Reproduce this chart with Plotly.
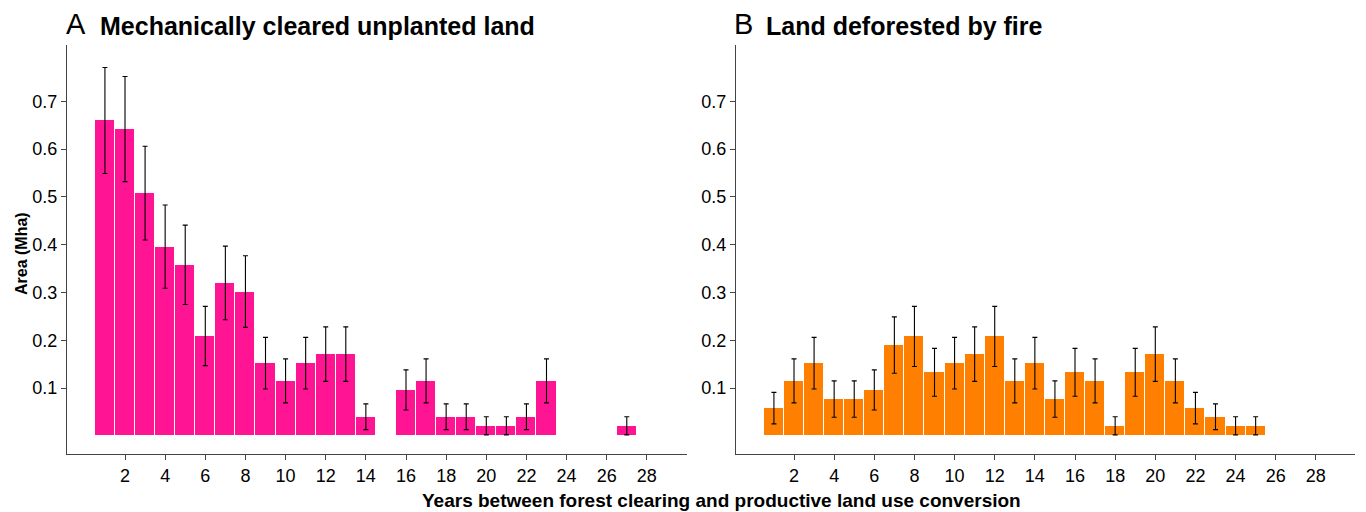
import plotly.graph_objects as go

# ---- data ----
left_years = [1, 2, 3, 4, 5, 6, 7, 8, 9, 10, 11, 12, 13, 14, 16, 17, 18, 19, 20, 21, 22, 23, 27]
left_vals = [0.660, 0.642, 0.508, 0.396, 0.358, 0.209, 0.320, 0.302, 0.152, 0.115, 0.152, 0.171,
             0.171, 0.040, 0.096, 0.115, 0.040, 0.040, 0.021, 0.021, 0.040, 0.115, 0.021]
left_err = [0.111, 0.110, 0.098, 0.087, 0.083, 0.062, 0.077, 0.075, 0.054, 0.046, 0.054, 0.057,
            0.057, 0.027, 0.042, 0.046, 0.027, 0.027, 0.019, 0.019, 0.027, 0.046, 0.019]

right_years = list(range(1, 26))
right_vals = [0.058, 0.115, 0.152, 0.077, 0.077, 0.096, 0.190, 0.208, 0.133, 0.152, 0.171, 0.208,
              0.115, 0.152, 0.077, 0.133, 0.115, 0.021, 0.133, 0.171, 0.115, 0.058, 0.040, 0.021, 0.021]
right_err = [0.033, 0.046, 0.054, 0.038, 0.038, 0.042, 0.059, 0.063, 0.050, 0.054, 0.057, 0.063,
             0.046, 0.054, 0.038, 0.050, 0.046, 0.019, 0.050, 0.057, 0.046, 0.033, 0.027, 0.019, 0.019]

y_ticks = [0.1, 0.2, 0.3, 0.4, 0.5, 0.6, 0.7]
x_ticks = list(range(2, 29, 2))

FONT = "Liberation Sans, Arial, sans-serif"
OFF = 8                      # page body margin
W, H = 1366 - OFF, 512 - OFF


def px(x):
    return (x - OFF) / W


def py(y):
    return 1 - (y - OFF) / H


fig = go.Figure()
err_style = dict(type="data", visible=True, color="black", thickness=1.1, width=2.5)

fig.add_trace(go.Bar(x=left_years, y=left_vals,
                     error_y=dict(array=left_err, **err_style),
                     marker=dict(color="#FF1493", line=dict(color="white", width=1)),
                     width=1, xaxis="x", yaxis="y", showlegend=False))
fig.add_trace(go.Bar(x=right_years, y=right_vals,
                     error_y=dict(array=right_err, **err_style),
                     marker=dict(color="#FF8000", line=dict(color="white", width=1)),
                     width=1, xaxis="x2", yaxis="y2", showlegend=False))

ax_common = dict(showline=True, linecolor="#444", linewidth=1.3, ticks="outside", ticklen=5,
                 tickcolor="#444", tickwidth=1, showgrid=False, zeroline=False,
                 tickfont=dict(family=FONT, size=18, color="black"))

fig.update_layout(
    width=W, height=H,
    paper_bgcolor="white", plot_bgcolor="white",
    margin=dict(l=0, r=0, t=0, b=0),
    bargap=0,
    xaxis=dict(domain=[px(67), px(687)], range=[-0.89, 30], tickvals=x_ticks, anchor="y", **ax_common),
    yaxis=dict(domain=[py(454), py(45)], range=[-0.038, 0.818], tickvals=y_ticks, anchor="x", **ax_common),
    xaxis2=dict(domain=[px(736), px(1355)], range=[-0.89, 29.95], tickvals=x_ticks, anchor="y2", **ax_common),
    yaxis2=dict(domain=[py(454), py(45)], range=[-0.038, 0.818], tickvals=y_ticks, anchor="x2", **ax_common),
)

annots = [
    dict(text="A", x=px(64), y=py(24), font=dict(size=29, family=FONT, color="black"),
         xanchor="left"),
    dict(text="<b>Mechanically cleared unplanted land</b>", x=px(98), y=py(26),
         font=dict(size=25, family=FONT, color="black"), xanchor="left"),
    dict(text="B", x=px(732), y=py(24), font=dict(size=29, family=FONT, color="black"),
         xanchor="left"),
    dict(text="<b>Land deforested by fire</b>", x=px(764), y=py(26),
         font=dict(size=25, family=FONT, color="black"), xanchor="left"),
    dict(text="<b>Area (Mha)</b>", x=px(21), y=py(254), textangle=-90,
         font=dict(size=16, family=FONT, color="black"), xanchor="center", yanchor="middle"),
    dict(text="<b>Years between forest clearing and productive land use conversion</b>",
         x=px(721), y=py(500), font=dict(size=19, family=FONT, color="black"),
         xanchor="center", yanchor="middle"),
]
for a in annots:
    a.update(xref="paper", yref="paper", showarrow=False)
    a.setdefault("yanchor", "middle")
    fig.add_annotation(**a)

fig.write_html("out.html")
